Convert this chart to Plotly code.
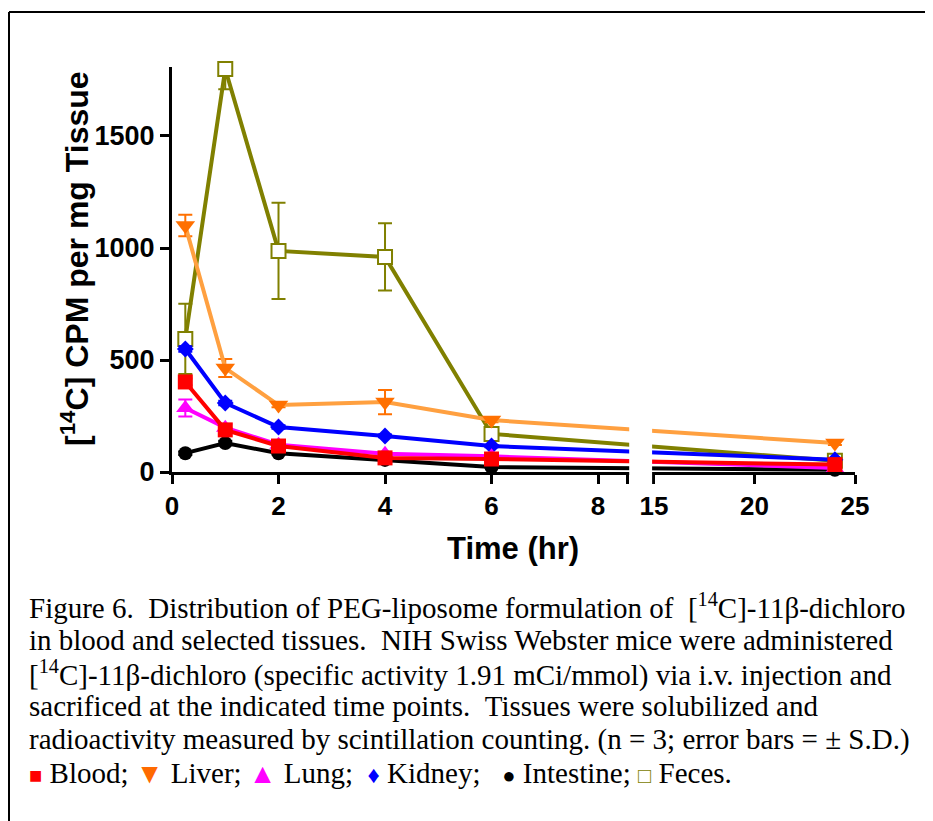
import plotly.graph_objects as go

# ---------------- data ----------------
TIME = [0.25, 1, 2, 4, 6, 24]

blood = [402, 188, 116, 63, 58, 33]
blood_sd = [15, 10, 8, 5, 5, 3]
liver = [1100, 464, 299, 312, 232, 129]
liver_sd = [48, 40, 10, 54, 10, 8]
lung = [286, 198, 122, 82, 70, 18]
lung_sd = [38, 15, 8, 6, 5, 3]
kidney = [549, 308, 201, 161, 116, 55]
kidney_sd = [12, 10, 8, 6, 5, 3]
intestine = [84, 129, 84, 54, 22, 10]
intestine_sd = [8, 10, 6, 5, 3, 2]
feces = [594, 1799, 987, 960, 170, 50]
feces_sd = [157, 90, 215, 150, 10, 5]

X_TICKS_LEFT = [0, 2, 4, 6, 8]
X_TICKS_RIGHT = [15, 20, 25]
Y_TICKS = [0, 500, 1000, 1500]

# ---------------- broken x-axis mapping ----------------
BRK_LO = 8.55      # end of the left segment (hr)
BRK_HI = 15.0      # start of the right segment (hr)
GAP = 0.5          # display units of the gap
K = 0.3775         # compression of right segment


def xd(t):
    return t if t <= BRK_LO else BRK_LO + GAP + (t - BRK_HI) * K


XMAX = xd(25)
YMAX = 1808

W, H = 933, 821
OFF = 8  # page offset of the figure inside the browser window
SX0, SX1, SY0, SY1 = 172, 855, 472, 67   # screen px of the plot area
L = SX0 - OFF
R = W - (SX1 - OFF)
T = SY1 - OFF
B = H - (SY0 - OFF)
PW, PH = W - L - R, H - T - B


def px(xs):
    return (xs - OFF - L) / PW


def py(ys):
    return (H - B - (ys - OFF)) / PH


fig = go.Figure()

series = [
    ("Feces", feces, feces_sd, "#808000", "#808000", "square-open", 14),
    ("Intestine", intestine, intestine_sd, "black", "black", "circle", 14),
    ("Kidney", kidney, kidney_sd, "#0000ff", "#0000ff", "diamond", 13),
    ("Lung", lung, lung_sd, "#ff00ff", "#ff00ff", "triangle-up", 16),
    ("Liver", liver, liver_sd, "#ffa040", "#ff7000", "triangle-down", 17),
    ("Blood", blood, blood_sd, "#ff0000", "#ff0000", "square", 15),
]

xs = [xd(t) for t in TIME]
for name, vals, sd, lc, mc, sym, size in series:
    marker = dict(symbol=sym, size=size, color=mc)
    if sym == "square-open":
        marker = dict(symbol="square", size=size, color="white",
                      line=dict(color=mc, width=2))
    fig.add_trace(go.Scatter(
        x=xs, y=vals, name=name, mode="lines+markers",
        line=dict(color=lc, width=4),
        marker=marker,
        error_y=dict(type="data", array=sd, visible=True, color=mc,
                     thickness=2, width=7),
        cliponaxis=False, showlegend=False,
    ))

tickvals = [xd(v) for v in X_TICKS_LEFT] + [BRK_LO] + [xd(v) for v in X_TICKS_RIGHT]
ticktext = [str(v) for v in X_TICKS_LEFT] + [""] + [str(v) for v in X_TICKS_RIGHT]

fig.update_layout(
    width=W, height=H,
    margin=dict(l=L, r=R, t=T, b=B),
    paper_bgcolor="white", plot_bgcolor="white",
    font=dict(family="Liberation Sans, Arial, sans-serif", color="black"),
    xaxis=dict(
        range=[0, XMAX], showgrid=False, zeroline=False,
        showline=True, linecolor="black", linewidth=3,
        ticks="outside", ticklen=9, tickwidth=3, tickcolor="black",
        tickmode="array", tickvals=tickvals, ticktext=ticktext,
        tickfont=dict(size=26, family="Liberation Sans, Arial", weight="bold"),
    ),
    yaxis=dict(
        range=[0, YMAX], showgrid=False, zeroline=False,
        showline=True, linecolor="black", linewidth=3,
        ticks="outside", ticklen=9, tickwidth=3, tickcolor="black",
        tickmode="array", tickvals=Y_TICKS,
        tickfont=dict(size=27, family="Liberation Sans, Arial", weight="bold"),
    ),
)

# axis titles
fig.add_annotation(text="<b>Time (hr)</b>", xref="paper", yref="paper",
                   x=px(513), y=py(548), xanchor="center", yanchor="middle",
                   showarrow=False,
                   font=dict(size=31, family="Liberation Sans, Arial"))
fig.add_annotation(text="<b>[<sup>14</sup>C] CPM per mg Tissue</b>",
                   xref="paper", yref="paper", textangle=-90,
                   x=px(75), y=py(259), xanchor="center", yanchor="middle",
                   showarrow=False,
                   font=dict(size=32, family="Liberation Sans, Arial"))

# white-out the axis break
fig.add_shape(type="rect", xref="x", yref="paper",
              x0=BRK_LO + 0.035, x1=xd(BRK_HI) - 0.035, y0=-0.04, y1=1.02,
              fillcolor="white", line=dict(width=0), layer="above")

# page frame (top and left edges)
fig.add_shape(type="line", xref="paper", yref="paper",
              x0=px(9), x1=px(W + 20), y0=py(12), y1=py(12),
              line=dict(color="black", width=2))
fig.add_shape(type="line", xref="paper", yref="paper",
              x0=px(9), x1=px(9), y0=py(12), y1=py(H + 20),
              line=dict(color="black", width=2))

SP = "\u00a0"
caption = [
    f"Figure 6.{SP}{SP}Distribution of PEG-liposome formulation of {SP}[<sup>14</sup>C]-11β-dichloro",
    f"in blood and selected tissues.{SP}{SP}NIH Swiss Webster mice were administered",
    "[<sup>14</sup>C]-11β-dichloro (specific activity 1.91 mCi/mmol) via i.v. injection and",
    f"sacrificed at the indicated time points.{SP}{SP}Tissues were solubilized and",
    "radioactivity measured by scintillation counting. (n = 3; error bars = ± S.D.)",
    ("<span style='color:#ff0000;font-size:22px'>■</span> Blood; "
     "<span style='color:#ff6a00;font-size:28px'>▼</span> Liver; "
     "<span style='color:#ff00ff;font-size:28px'>▲</span> Lung; "
     f"{SP}<span style='color:#0000ff;font-size:24px'>♦</span> Kidney; "
     f"{SP}{SP}<span style='color:black;font-size:22px'>●</span> Intestine; "
     "<span style='color:#808000;font-size:22px'>□</span> Feces."),
]
line_y = [606, 640, 673, 706, 739, 773]
for txt, yy in zip(caption, line_y):
    fig.add_annotation(
        text=txt, xref="paper", yref="paper", x=px(27), y=py(yy),
        xanchor="left", yanchor="middle", showarrow=False,
        font=dict(family="Liberation Serif, Times New Roman, serif",
                  size=29, color="black"),
    )

fig.write_html("out.html")
